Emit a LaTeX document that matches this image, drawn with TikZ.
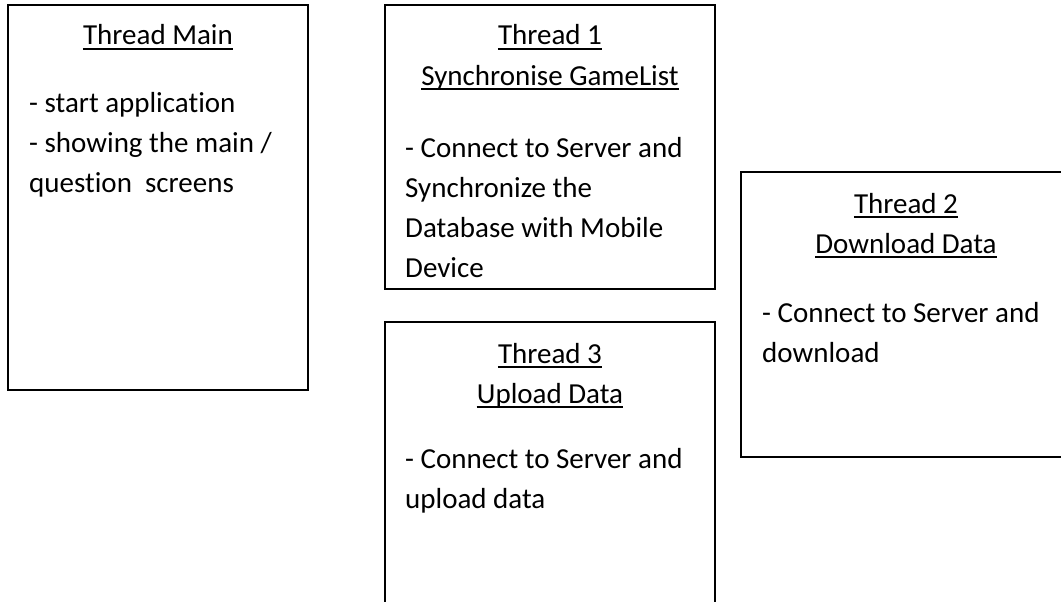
\documentclass[tikz,border=0pt]{standalone}
\usepackage{fontspec}
\setmainfont{Carlito}[Ligatures={NoCommon}]
\tikzset{
  box/.style={draw=black, line width=2pt, inner sep=0pt, outer sep=0pt, anchor=north west},
  txt/.style={anchor=base west, inner sep=0pt, font=\fontsize{29}{41}\selectfont},
  ttl/.style={anchor=base, inner sep=0pt, font=\fontsize{29}{41}\selectfont},
  ul/.style={line width=2pt}
}
\newcommand\mytitle[3]{%
  \node[ttl] (#1) at (#2) {#3};
  \draw[ul] ([yshift=-4pt]#1.base west) -- ([yshift=-4pt]#1.base east);}
\begin{document}
\begin{tikzpicture}[x=1pt, y=-1pt]
\useasboundingbox (0,0) rectangle (1061,602);
% boxes
\node[box, minimum width=300pt, minimum height=385pt] (mainbox) at (8,5) {};
\node[box, minimum width=330pt, minimum height=284pt] (t1box) at (385,5) {};
\node[box, minimum width=330pt, minimum height=300pt] (t3box) at (385,322) {};
\node[box, minimum width=330pt, minimum height=285pt] (t2box) at (741,172) {};
% Thread Main
\mytitle{tmain}{158,45}{Thread Main}
\node[txt] (m1) at (29,112) {- start application};
\node[txt] (m2) at (29,152) {- showing the main /};
\node[txt] (m3) at (29,192) {question~ screens};
% Thread 1
\mytitle{ta}{550,45}{Thread 1}
\mytitle{tb}{550,85}{Synchronise GameList}
\node[txt] (a1) at (405,157.5) {- Connect to Server and};
\node[txt] (a2) at (405,197.5) {Synchronize the};
\node[txt] (a3) at (405,237.5) {Database with Mobile};
\node[txt] (a4) at (405,277.5) {Device};
% Thread 2
\mytitle{tc}{906,213}{Thread 2}
\mytitle{td}{906,253}{Download Data}
\node[txt] (b1) at (762,322) {- Connect to Server and};
\node[txt] (b2) at (762,362) {download};
% Thread 3
\mytitle{te}{550,363}{Thread 3}
\mytitle{tf}{550,403}{Upload Data}
\node[txt] (c1) at (405,468) {- Connect to Server and};
\node[txt] (c2) at (405,508) {upload data};
\end{tikzpicture}
\end{document}
